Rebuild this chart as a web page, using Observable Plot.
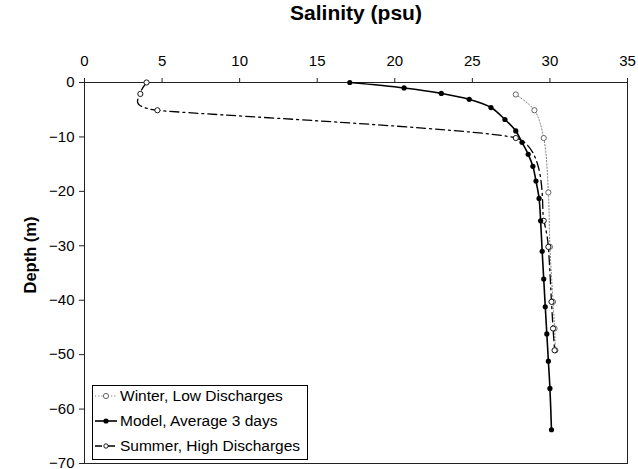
<!DOCTYPE html>
<html>
<head>
<meta charset="utf-8">
<script src="https://cdn.jsdelivr.net/npm/d3@7"></script>
<script src="https://cdn.jsdelivr.net/npm/@observablehq/plot@0.6"></script>
<style>
  html, body { margin: 0; padding: 0; background: #fff; }
  #wrap { position: relative; width: 638px; height: 469px; font-family: "Liberation Sans", Arial, sans-serif; overflow: hidden; }
  #wrap svg { font-family: "Liberation Sans", Arial, sans-serif; }
  g[aria-label="x-axis label"] text { font-weight: bold; font-size: 21px; }
  #ylab { position: absolute; left: 30px; top: 255px; transform: translate(-50%, -50%) rotate(-90deg); font-weight: bold; font-size: 16.5px; white-space: nowrap; color: #000; }
  #legend { position: absolute; left: 92px; top: 385px; width: 216px; height: 75px; border: 1px solid #000; background: #fff; box-sizing: border-box; font-size: 15.5px; color: #000; }
  .row { position: absolute; left: 0; height: 20px; display: flex; align-items: center; white-space: nowrap; }
  .row svg { margin-left: 2px; margin-right: 3px; }
</style>
</head>
<body>
<div id="wrap"></div>
<script>
// Salinity (psu) vs depth (m)
const modelSal   = [17.1, 20.6, 23.0, 24.8, 26.2, 27.1, 27.8, 28.2, 28.6, 28.9, 29.1, 29.3, 29.4, 29.5, 29.6, 29.7, 29.8, 29.9, 30.0, 30.1];
const modelDepth = [0, -1, -2, -3.1, -4.6, -6.8, -8.9, -11, -13.2, -15.4, -18.1, -21.3, -25.4, -31, -36.1, -41.2, -46.2, -51.2, -56.2, -63.8];

const winterSal   = [27.8, 29.0, 29.6, 29.9, 30.0, 30.2, 30.3, 30.35];
const winterDepth = [-2.2, -5.1, -10.2, -20.2, -30.2, -40.3, -45.2, -49.2];

const summerSal   = [4.0, 3.6, 4.7, 27.8, 29.6, 29.9, 30.1, 30.2, 30.3];
const summerDepth = [0, -2.1, -5.1, -10.2, -25.4, -30.2, -40.3, -45.2, -49.2];

const xTicks = [0, 5, 10, 15, 20, 25, 30, 35];
const yTicks = [0, -10, -20, -30, -40, -50, -60, -70];

const xTitle = "Salinity (psu)";
const yTitle = "Depth (m)";
const seriesNames = ["Winter, Low Discharges", "Model, Average 3 days", "Summer, High Discharges"];

const toRows = (xs, ys) => xs.map((x, i) => ({x, y: ys[i]}));
const model = toRows(modelSal, modelDepth);
const winter = toRows(winterSal, winterDepth);
const summer = toRows(summerSal, summerDepth);

const chart = Plot.plot({
  width: 638,
  height: 469,
  marginTop: 82,
  marginLeft: 84,
  marginRight: 11,
  marginBottom: 6,
  style: {fontSize: "15px", fontFamily: "Liberation Sans, Arial, sans-serif", color: "#000", background: "#fff"},
  x: {domain: [0, 35]},
  y: {domain: [-70, 0]},
  marks: [
    Plot.frame({stroke: "#222", strokeWidth: 1}),
    Plot.axisX({anchor: "top", ticks: xTicks, tickSize: 5, tickPadding: 12, label: xTitle, labelAnchor: "center", labelArrow: "none", labelOffset: 77, stroke: "#222"}),
    Plot.axisY({anchor: "left", ticks: yTicks, tickSize: 5, tickPadding: 5, label: null, stroke: "#222"}),
    Plot.line(winter, {x: "x", y: "y", curve: "catmull-rom", stroke: "#777", strokeWidth: 1, strokeDasharray: "1.2,2"}),
    Plot.line(summer, {x: "x", y: "y", curve: "cardinal", tension: 0.5, stroke: "#000", strokeWidth: 1.3, strokeDasharray: "9,4,2,4"}),
    Plot.line(model, {x: "x", y: "y", curve: "catmull-rom", stroke: "#000", strokeWidth: 1.6}),
    Plot.dot(winter, {x: "x", y: "y", r: 2.6, stroke: "#555", fill: "#fff", strokeWidth: 0.9}),
    Plot.dot(summer, {x: "x", y: "y", r: 2.6, stroke: "#000", fill: "#fff", strokeWidth: 0.9}),
    Plot.dot(model, {x: "x", y: "y", r: 2.6, fill: "#000", stroke: "none"})
  ]
});

const wrap = document.getElementById("wrap");
wrap.appendChild(chart);

const ylab = document.createElement("div");
ylab.id = "ylab";
ylab.textContent = yTitle;
wrap.appendChild(ylab);

// legend
const legend = document.createElement("div");
legend.id = "legend";
const samples = [
  `<svg width="22" height="10"><line x1="0" y1="5" x2="22" y2="5" stroke="#777" stroke-dasharray="1.2,2"/><circle cx="11" cy="5" r="2.6" fill="#fff" stroke="#555" stroke-width="0.9"/></svg>`,
  `<svg width="22" height="10"><line x1="0" y1="5" x2="22" y2="5" stroke="#000" stroke-width="1.6"/><circle cx="11" cy="5" r="2.6" fill="#000"/></svg>`,
  `<svg width="22" height="10"><line x1="0" y1="5" x2="22" y2="5" stroke="#000" stroke-width="1.3" stroke-dasharray="7,2,2,2"/><circle cx="11" cy="5" r="2.2" fill="#fff" stroke="#000" stroke-width="0.9"/></svg>`
];
const tops = [0, 25, 50];
seriesNames.forEach((name, i) => {
  const row = document.createElement("div");
  row.className = "row";
  row.style.top = tops[i] + "px";
  row.innerHTML = samples[i] + `<span>${name}</span>`;
  legend.appendChild(row);
});
wrap.appendChild(legend);
</script>
</body>
</html>
